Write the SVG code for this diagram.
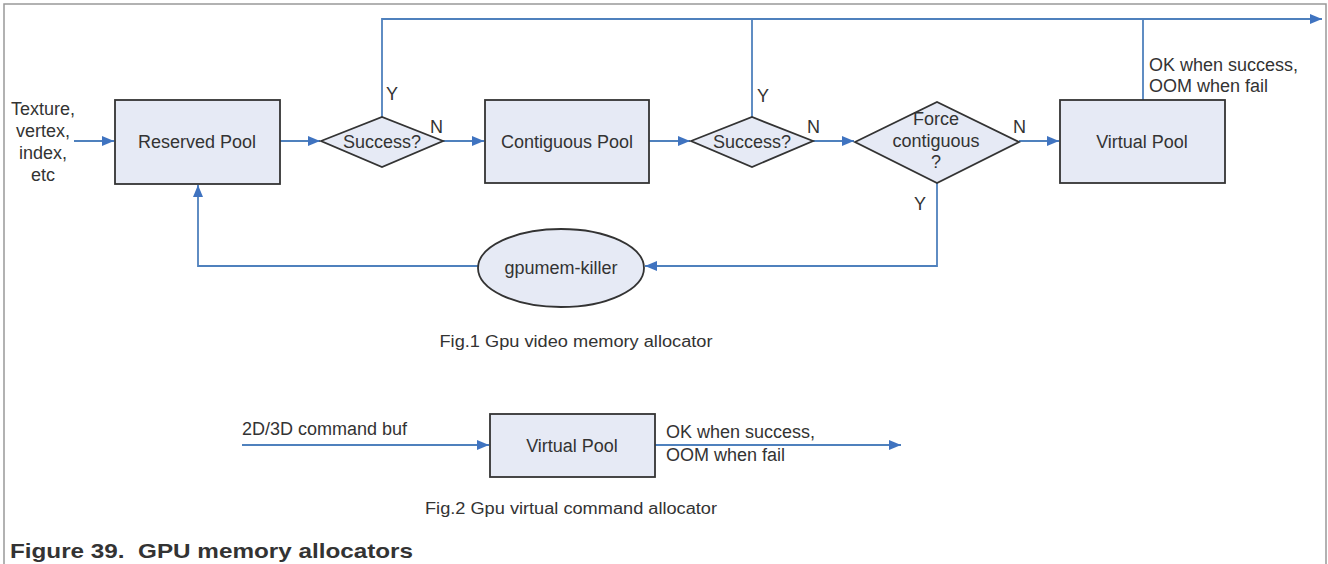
<svg xmlns="http://www.w3.org/2000/svg" width="1328" height="564" viewBox="0 0 1328 564">
<style>
text{font-family:"Liberation Sans",Arial,sans-serif;font-size:18px;fill:#333}
.c{text-anchor:middle}
.cap{font-size:16px}
.node{fill:#e6eaf5;stroke:#333;stroke-width:1.8}
.ln{fill:none;stroke:#4f81bd;stroke-width:1.8}
.frame{fill:none;stroke:#999;stroke-width:1.5}
</style>
<defs>
<marker id="ah" viewBox="0 0 12 10" refX="12" refY="5" markerWidth="12" markerHeight="10" markerUnits="userSpaceOnUse" orient="auto">
<path d="M0,0 L12,5 L0,10 z" fill="#3f73c0"/>
</marker>
</defs>
<path class="frame" d="M4,564 V4 H1326 V564"/>
<g id="connectors">
<path class="ln" d="M74,141 H114" marker-end="url(#ah)"/>
<path class="ln" d="M280,141 H320" marker-end="url(#ah)"/>
<path class="ln" d="M443,141 H484" marker-end="url(#ah)"/>
<path class="ln" d="M649,141 H690" marker-end="url(#ah)"/>
<path class="ln" d="M813,141 H854" marker-end="url(#ah)"/>
<path class="ln" d="M1019,141 H1059" marker-end="url(#ah)"/>
<path class="ln" d="M382,117 V19 H1322" marker-end="url(#ah)"/>
<path class="ln" d="M752,117 V19"/>
<path class="ln" d="M1143,100 V19"/>
<path class="ln" d="M937,183 V266 H645" marker-end="url(#ah)"/>
<path class="ln" d="M478,266 H198 V185" marker-end="url(#ah)"/>
<path class="ln" d="M242,445 H489" marker-end="url(#ah)"/>
<path class="ln" d="M655,445 H901" marker-end="url(#ah)"/>
</g>
<g id="input-label">
<text class="c" x="43" y="115">Texture,</text>
<text class="c" x="43" y="137">vertex,</text>
<text class="c" x="43" y="159">index,</text>
<text class="c" x="43" y="181">etc</text>
</g>
<g id="reserved-pool">
<rect class="node" x="115" y="100" width="165" height="84"/>
<text class="c" x="197" y="148">Reserved Pool</text>
</g>
<g id="success1">
<path class="node" d="M321,141 L382,117 L443,141 L382,167 z"/>
<text class="c" x="382" y="148">Success?</text>
<text x="386" y="100">Y</text>
<text x="430" y="133">N</text>
</g>
<g id="contiguous-pool">
<rect class="node" x="485" y="100" width="164" height="83"/>
<text class="c" x="567" y="148">Contiguous Pool</text>
</g>
<g id="success2">
<path class="node" d="M691,141 L752,117 L813,141 L752,167 z"/>
<text class="c" x="752" y="148">Success?</text>
<text x="757" y="102">Y</text>
<text x="807" y="133">N</text>
</g>
<g id="force-contiguous">
<path class="node" d="M855,142 L937,102 L1019,142 L937,183 z"/>
<text class="c" x="936" y="125">Force</text>
<text class="c" x="936" y="147">contiguous</text>
<text class="c" x="936" y="168">?</text>
<text x="1013" y="133">N</text>
<text x="914" y="210">Y</text>
</g>
<g id="virtual-pool">
<rect class="node" x="1060" y="100" width="165" height="83"/>
<text class="c" x="1142" y="148">Virtual Pool</text>
<text x="1149" y="71">OK when success,</text>
<text x="1149" y="92">OOM when fail</text>
</g>
<g id="gpumem-killer">
<ellipse class="node" cx="561" cy="268" rx="83" ry="39"/>
<text class="c" x="561" y="274">gpumem-killer</text>
</g>
<text class="c cap" x="576" y="347" textLength="273" lengthAdjust="spacingAndGlyphs">Fig.1 Gpu video memory allocator</text>
<g id="fig2-input">
<text x="242" y="435">2D/3D command buf</text>
</g>
<g id="fig2-virtual-pool">
<rect class="node" x="490" y="414" width="165" height="63"/>
<text class="c" x="572" y="452">Virtual Pool</text>
</g>
<g id="fig2-output">
<text x="666" y="438">OK when success,</text>
<text x="666" y="461">OOM when fail</text>
</g>
<text class="c cap" x="571" y="514" textLength="292" lengthAdjust="spacingAndGlyphs">Fig.2 Gpu virtual command allocator</text>
<text x="10" y="558" xml:space="preserve" textLength="403" lengthAdjust="spacingAndGlyphs" style="font-size:21px;font-weight:bold;fill:#333;white-space:pre">Figure 39.  GPU memory allocators</text>
</svg>
